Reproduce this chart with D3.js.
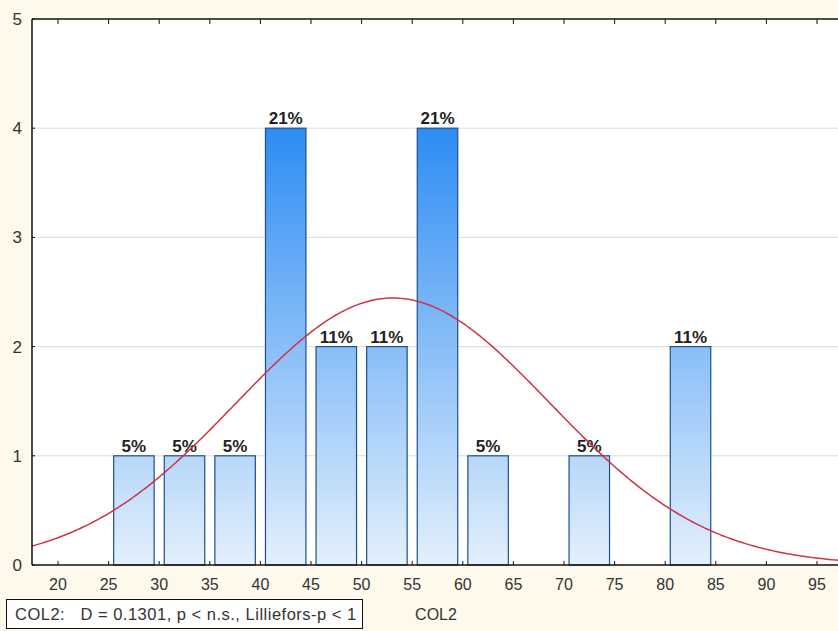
<!DOCTYPE html>
<html>
<head>
<meta charset="utf-8">
<script src="https://cdn.jsdelivr.net/npm/d3@7/dist/d3.min.js"></script>
<style>
  html, body { margin: 0; padding: 0; background: #fdf9ec; }
  svg { display: block; font-family: Arial, "Liberation Sans", sans-serif; }
</style>
</head>
<body>
<svg id="chart" width="838" height="631"></svg>
<script>
// Histogram of COL2 with fitted normal curve
const binStarts = [25, 30, 35, 40, 45, 50, 55, 60, 65, 70, 75, 80];
const binWidth = 5;
const counts = [1, 1, 1, 4, 2, 2, 4, 1, 0, 1, 0, 2];
const xTicks = [20, 25, 30, 35, 40, 45, 50, 55, 60, 65, 70, 75, 80, 85, 90, 95];
const yTicks = [0, 1, 2, 3, 4, 5];
const fitMean = 53.1;
const fitSd = 15.5;
const statsText = "COL2:   D = 0.1301, p < n.s., Lilliefors-p < 1";
const axisTitle = "COL2";

(function draw() {
  const total = d3.sum(counts);
  const svg = d3.select("#chart");

  const plotLeft = 32, plotTop = 19, plotBottom = 565, plotRight = 842;
  const x = d3.scaleLinear().domain([20, 95]).range([58, 817]);
  const xMin = x.invert(plotLeft), xMax = x.invert(plotRight);
  const y = d3.scaleLinear().domain([0, 5]).range([plotBottom, plotTop]);

  // plot area
  svg.append("rect")
    .attr("x", plotLeft).attr("y", plotTop)
    .attr("width", plotRight - plotLeft).attr("height", plotBottom - plotTop)
    .attr("fill", "#ffffff");

  // gradient for bars, spanning the tallest bar
  const defs = svg.append("defs");
  const grad = defs.append("linearGradient")
    .attr("id", "barGrad")
    .attr("gradientUnits", "userSpaceOnUse")
    .attr("x1", 0).attr("x2", 0)
    .attr("y1", y(4)).attr("y2", y(0));
  grad.append("stop").attr("offset", "0%").attr("stop-color", "#2d8cf3");
  grad.append("stop").attr("offset", "100%").attr("stop-color", "#e4f0fc");

  // horizontal gridlines
  svg.append("g").selectAll("line")
    .data(yTicks.filter(d => d > 0 && d < 5))
    .join("line")
    .attr("x1", plotLeft).attr("x2", 838)
    .attr("y1", d => y(d)).attr("y2", d => y(d))
    .attr("stroke", "#dcdcdc").attr("stroke-width", 1);

  // bars
  const bins = binStarts.map((s, i) => ({ s, c: counts[i] })).filter(d => d.c > 0);
  svg.append("g").selectAll("rect")
    .data(bins)
    .join("rect")
    .attr("x", d => x(d.s + 0.5))
    .attr("y", d => y(d.c))
    .attr("width", d => x(d.s + binWidth - 0.5) - x(d.s + 0.5))
    .attr("height", d => y(0) - y(d.c))
    .attr("fill", "url(#barGrad)")
    .attr("stroke", "#1c4f8c")
    .attr("stroke-width", 1.2);

  // percentage labels
  svg.append("g").selectAll("text")
    .data(bins)
    .join("text")
    .attr("x", d => x(d.s + binWidth / 2))
    .attr("y", d => y(d.c) - 4)
    .attr("text-anchor", "middle")
    .attr("font-size", 17)
    .attr("font-weight", "bold")
    .attr("fill", "#222")
    .text(d => Math.round(100 * d.c / total) + "%");

  // fitted normal curve (expected counts per bin)
  const scaleN = total * binWidth / (fitSd * Math.sqrt(2 * Math.PI));
  const curvePts = d3.range(xMin, xMax + 0.01, 0.25)
    .map(v => [v, scaleN * Math.exp(-0.5 * ((v - fitMean) / fitSd) ** 2)]);
  svg.append("path")
    .datum(curvePts)
    .attr("d", d3.line().x(d => x(d[0])).y(d => y(d[1])))
    .attr("fill", "none")
    .attr("stroke", "#cc3345")
    .attr("stroke-width", 1.5);

  // frame: left, top, bottom lines
  svg.append("line").attr("x1", plotLeft).attr("x2", plotLeft).attr("y1", plotTop).attr("y2", plotBottom)
    .attr("stroke", "#111").attr("stroke-width", 1.5);
  svg.append("line").attr("x1", plotLeft).attr("x2", 838).attr("y1", plotTop).attr("y2", plotTop)
    .attr("stroke", "#111").attr("stroke-width", 1.5);
  svg.append("line").attr("x1", plotLeft).attr("x2", 838).attr("y1", plotBottom).attr("y2", plotBottom)
    .attr("stroke", "#111").attr("stroke-width", 1.5);

  // x ticks (inside, top and bottom) and labels
  const xt = svg.append("g");
  xt.selectAll("line.b").data(xTicks).join("line").attr("class", "b")
    .attr("x1", d => x(d)).attr("x2", d => x(d))
    .attr("y1", plotBottom).attr("y2", plotBottom - 4)
    .attr("stroke", "#111");
  xt.selectAll("line.t").data(xTicks).join("line").attr("class", "t")
    .attr("x1", d => x(d)).attr("x2", d => x(d))
    .attr("y1", plotTop).attr("y2", plotTop + 5)
    .attr("stroke", "#111");
  xt.selectAll("text").data(xTicks).join("text")
    .attr("x", d => x(d)).attr("y", 590)
    .attr("text-anchor", "middle")
    .attr("font-size", 16)
    .attr("fill", "#333")
    .text(d => d);

  // y ticks and labels
  const yt = svg.append("g");
  yt.selectAll("line").data(yTicks).join("line")
    .attr("x1", plotLeft).attr("x2", plotLeft + 3)
    .attr("y1", d => y(d)).attr("y2", d => y(d))
    .attr("stroke", "#111");
  yt.selectAll("text").data(yTicks).join("text")
    .attr("x", 22).attr("y", d => y(d) + 6)
    .attr("text-anchor", "end")
    .attr("font-size", 17)
    .attr("fill", "#333")
    .text(d => d);

  // axis title
  svg.append("text")
    .attr("x", 436).attr("y", 620)
    .attr("text-anchor", "middle")
    .attr("font-size", 16)
    .attr("fill", "#333")
    .text(axisTitle);

  // statistics box
  svg.append("rect")
    .attr("x", 6.5).attr("y", 599.5).attr("width", 356).attr("height", 29)
    .attr("fill", "#ffffff").attr("stroke", "#111").attr("stroke-width", 1);
  svg.append("text")
    .attr("x", 15).attr("y", 620)
    .attr("font-size", 16.5)
    .attr("letter-spacing", 0.5)
    .attr("fill", "#333")
    .style("white-space", "pre")
    .text(statsText);
})();
</script>
</body>
</html>
